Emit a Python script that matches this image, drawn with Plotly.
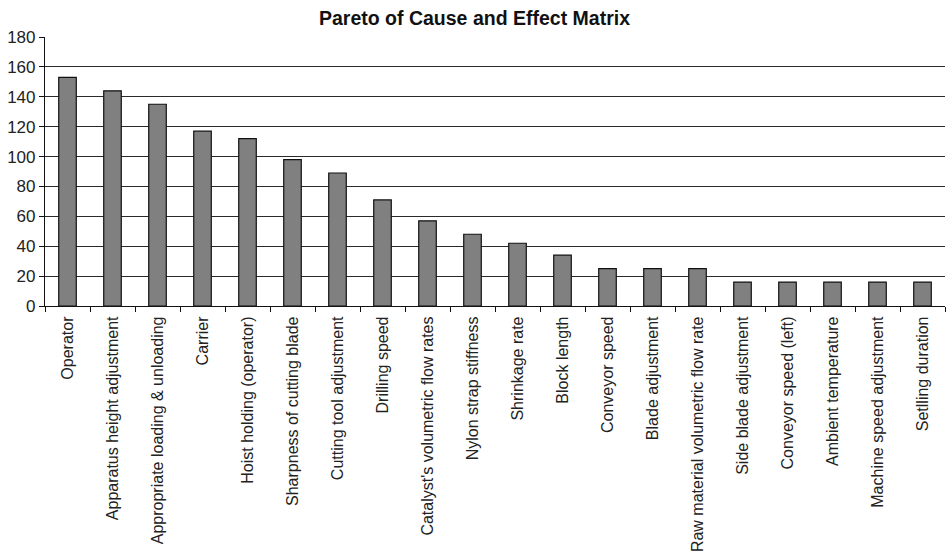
import plotly.graph_objects as go

# Causes ranked by total score from the cause-and-effect matrix
causes = [
    "Operator",
    "Apparatus height adjustment",
    "Appropriate loading & unloading",
    "Carrier",
    "Hoist holding (operator)",
    "Sharpness of cutting blade",
    "Cutting tool adjustment",
    "Drilling speed",
    "Catalyst's volumetric flow rates",
    "Nylon strap stiffness",
    "Shrinkage rate",
    "Block length",
    "Conveyor speed",
    "Blade adjustment",
    "Raw material volumetric flow rate",
    "Side blade adjustment",
    "Conveyor speed (left)",
    "Ambient temperature",
    "Machine speed adjustment",
    "Setlling duration",
]
scores = [153, 144, 135, 117, 112, 98, 89, 71, 57, 48,
          42, 34, 25, 25, 25, 16, 16, 16, 16, 16]
y_ticks = [0, 20, 40, 60, 80, 100, 120, 140, 160, 180]

font_family = "Liberation Sans, Arial, sans-serif"

fig = go.Figure(
    go.Bar(
        x=causes,
        y=scores,
        marker=dict(color="#808080", line=dict(color="#111111", width=1.2)),
        width=0.39,
    )
)

fig.update_layout(
    width=949,
    height=558,
    margin=dict(l=45, r=4, t=37, b=252),
    paper_bgcolor="white",
    plot_bgcolor="white",
    showlegend=False,
    title=dict(
        text="<b>Pareto of Cause and Effect Matrix</b>",
        x=0.5,
        xanchor="center",
        y=0.968,
        yanchor="middle",
        font=dict(family=font_family, size=19.5, color="#111111"),
    ),
    font=dict(family=font_family, size=16, color="#222222"),
)

fig.update_xaxes(
    tickangle=-90,
    showline=True,
    linecolor="#111111",
    linewidth=1.2,
    ticks="outside",
    tickson="boundaries",
    ticklen=5,
    tickcolor="#111111",
    ticklabelstandoff=3,
    showgrid=False,
    tickfont=dict(size=16, color="#222222"),
)

fig.update_yaxes(
    range=[0, 180],
    tickvals=y_ticks,
    showline=True,
    linecolor="#111111",
    linewidth=1.2,
    ticks="outside",
    ticklen=5,
    tickcolor="#111111",
    showgrid=True,
    gridcolor="#2a2a2a",
    gridwidth=1.2,
    zeroline=False,
    tickfont=dict(size=17, color="#222222"),
)

fig.write_html("out.html")
